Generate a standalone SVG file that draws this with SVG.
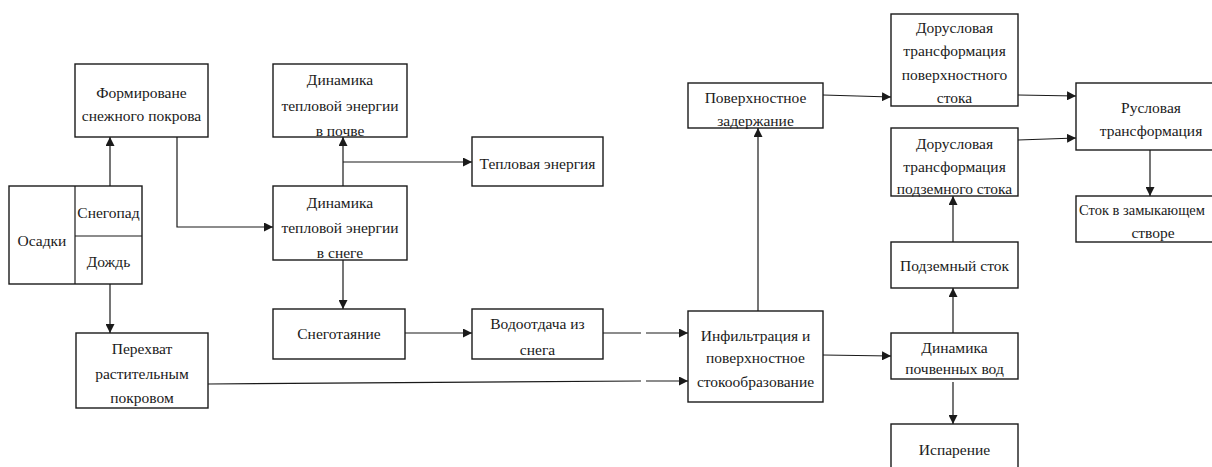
<svg xmlns="http://www.w3.org/2000/svg" width="1212" height="467" viewBox="0 0 1212 467">
<style>
.b{fill:#fff;stroke:#1a1a1a;stroke-width:1.4}
.t{font-family:'Liberation Serif','DejaVu Serif',serif;font-size:15.5px;fill:#1a1a1a;text-anchor:middle;dominant-baseline:central}
.c{fill:none;stroke:#1a1a1a;stroke-width:1.2}
.a{marker-end:url(#ah)}
</style>
<defs>
<marker id="ah" viewBox="0 0 10 10" refX="10" refY="5" markerWidth="9" markerHeight="9" markerUnits="userSpaceOnUse" orient="auto">
<path d="M0,0 L10,5 L0,10 z" fill="#1a1a1a"/>
</marker>
</defs>
<rect width="1212" height="467" fill="#fff"/>
<g id="connectors">
<path class="c a" d="M110,186 V137"/>
<path class="c a" d="M177,137 V227 H273"/>
<path class="c a" d="M343,186 V137"/>
<path class="c a" d="M343,162 H472"/>
<path class="c a" d="M343,260 V309"/>
<path class="c a" d="M405,333 H472"/>
<path class="c" d="M603,333 H641"/>
<path class="c a" d="M646,333 H688"/>
<path class="c a" d="M110,284 V333"/>
<path class="c" d="M208,384 L641,381"/>
<path class="c a" d="M646,381 H688"/>
<path class="c a" d="M758,311 V128"/>
<path class="c a" d="M823,95 L891,97"/>
<path class="c a" d="M823,355 L891,356"/>
<path class="c a" d="M953,333 V288"/>
<path class="c a" d="M953,382 V424"/>
<path class="c a" d="M953,242 V196"/>
<path class="c a" d="M1018,95 L1076,96"/>
<path class="c a" d="M1018,140 L1076,138"/>
<path class="c a" d="M1150,150 V196"/>
</g>
<g id="osadki">
<rect class="b" x="9" y="186" width="133" height="98"/>
<path class="c" d="M75,186 V284 M75,236 H142"/>
<text class="t" x="42" y="240">Осадки</text>
<text class="t" x="108.5" y="212">Снегопад</text>
<text class="t" x="108.5" y="261">Дождь</text>
</g>
<g id="formirovanie">
<rect class="b" x="75" y="64" width="133" height="73"/>
<text class="t" x="141.5" y="92">Формироване</text>
<text class="t" x="141.5" y="115">снежного покрова</text>
</g>
<g id="dyn-soil">
<rect class="b" x="273" y="64" width="134" height="73"/>
<text class="t" x="340" y="79">Динамика</text>
<text class="t" x="340" y="105">тепловой энергии</text>
<text class="t" x="340" y="130">в почве</text>
</g>
<g id="dyn-snow">
<rect class="b" x="273" y="186" width="134" height="74"/>
<text class="t" x="340" y="202">Динамика</text>
<text class="t" x="340" y="227">тепловой энергии</text>
<text class="t" x="340" y="252">в снеге</text>
</g>
<g id="heat">
<rect class="b" x="472" y="137" width="131" height="49"/>
<text class="t" x="537.5" y="163">Тепловая энергия</text>
</g>
<g id="perehvat">
<rect class="b" x="76" y="333" width="132" height="75"/>
<text class="t" x="142" y="348">Перехват</text>
<text class="t" x="142" y="373">растительным</text>
<text class="t" x="142" y="397">покровом</text>
</g>
<g id="snegotayanie">
<rect class="b" x="273" y="309" width="132" height="50"/>
<text class="t" x="339" y="333">Снеготаяние</text>
</g>
<g id="vodootdacha">
<rect class="b" x="472" y="309" width="131" height="50"/>
<text class="t" x="537.5" y="323">Водоотдача из</text>
<text class="t" x="537.5" y="349">снега</text>
</g>
<g id="zaderzhanie">
<rect class="b" x="688" y="83" width="135" height="45"/>
<text class="t" x="755.5" y="97">Поверхностное</text>
<text class="t" x="755.5" y="120">задержание</text>
</g>
<g id="infiltraciya">
<rect class="b" x="688" y="311" width="135" height="91"/>
<text class="t" x="755.5" y="335">Инфильтрация и</text>
<text class="t" x="755.5" y="357">поверхностное</text>
<text class="t" x="755.5" y="381">стокообразование</text>
</g>
<g id="dor-pov">
<rect class="b" x="891" y="14" width="127" height="92"/>
<text class="t" x="954.5" y="27">Дорусловая</text>
<text class="t" x="954.5" y="50">трансформация</text>
<text class="t" x="954.5" y="74">поверхностного</text>
<text class="t" x="954.5" y="97">стока</text>
</g>
<g id="dor-podz">
<rect class="b" x="891" y="128" width="127" height="68"/>
<text class="t" x="954.5" y="143">Дорусловая</text>
<text class="t" x="954.5" y="166">трансформация</text>
<text class="t" x="954.5" y="188">подземного стока</text>
</g>
<g id="podzemny">
<rect class="b" x="891" y="242" width="127" height="46"/>
<text class="t" x="954.5" y="265">Подземный сток</text>
</g>
<g id="pochv">
<rect class="b" x="891" y="333" width="127" height="46"/>
<text class="t" x="954.5" y="347">Динамика</text>
<text class="t" x="954.5" y="368">почвенных вод</text>
</g>
<g id="isparenie">
<rect class="b" x="891" y="424" width="127" height="60"/>
<text class="t" x="954.5" y="449">Испарение</text>
</g>
<g id="ruslovaya">
<rect class="b" x="1076" y="83" width="152" height="67"/>
<text class="t" x="1151" y="107">Русловая</text>
<text class="t" x="1151" y="130">трансформация</text>
</g>
<g id="stok">
<rect class="b" x="1076" y="196" width="152" height="46"/>
<text class="t" x="1079" y="210" style="text-anchor:start;font-size:14.5px">Сток в замыкающем</text>
<text class="t" x="1153" y="232">створе</text>
</g>
</svg>
